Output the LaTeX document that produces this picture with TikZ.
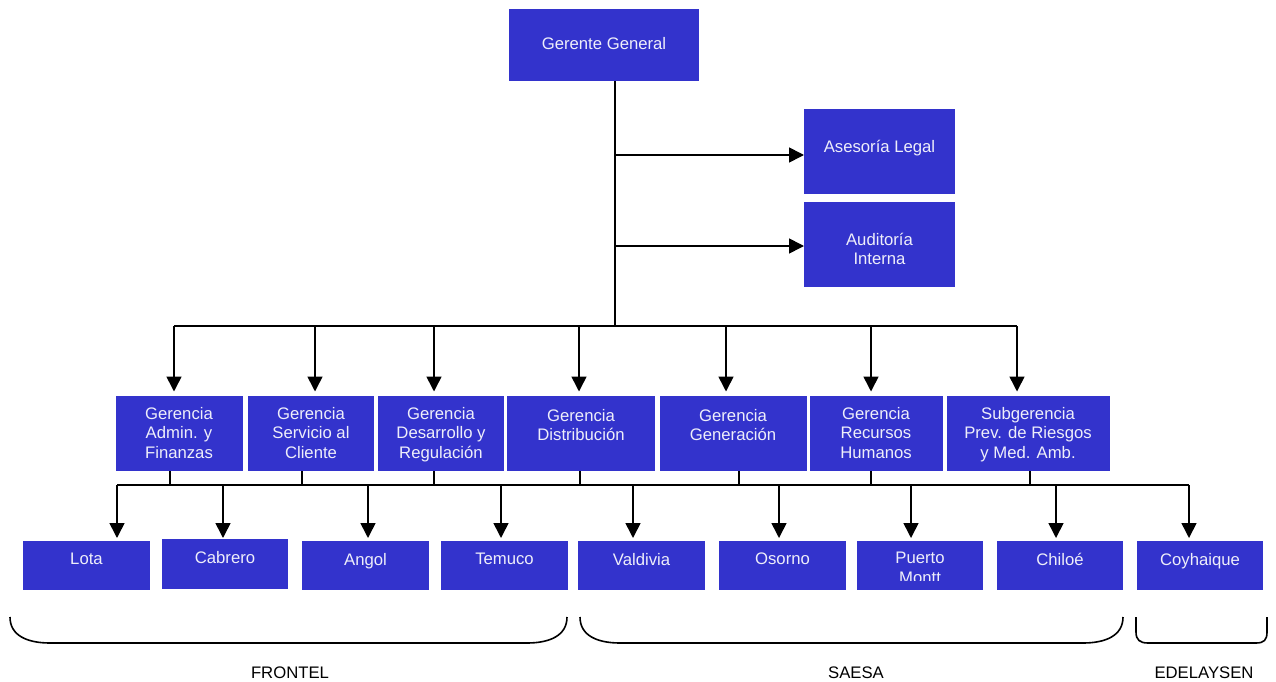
\documentclass[tikz,border=0pt]{standalone}
\usepackage{fontspec}
\setmainfont{Liberation Sans}
\usetikzlibrary{arrows.meta}
\definecolor{boxblue}{RGB}{51,51,204}
\definecolor{txtcol}{RGB}{238,238,250}
\begin{document}
\begin{tikzpicture}[x=1pt,y=-1pt,
  box/.style={fill=boxblue,draw=none,inner sep=0pt,outer sep=0pt},
  txt/.style={text=txtcol,align=center,inner sep=0pt,anchor=north,font=\fontsize{16.7}{19.5}\selectfont},
  lbl/.style={text=black,inner sep=0pt,anchor=north,font=\fontsize{16.7}{19.5}\selectfont},
  ln/.style={line width=1.6pt,draw=black},
  arr/.style={ln,-{Triangle[length=15pt,width=15pt]}},
  brace/.style={line width=1.6pt,draw=black}]
\useasboundingbox (0,0) rectangle (1276,682);

% top boxes
\node[box,minimum width=190,minimum height=72] (gg) at (604,45) {};
\node[txt] (ggt) at (604,37) {Gerente General};
\node[box,minimum width=151,minimum height=85] (al) at (879.5,151.5) {};
\node[txt] (alt) at (879.5,140.5) {Asesoría Legal};
\node[box,minimum width=151,minimum height=85] (ai) at (879.5,244.5) {};
\node[txt] (ait) at (879.5,233) {Auditoría\\Interna};

% middle row
\node[box,minimum width=127,minimum height=75] (adm) at (179.5,433.5) {};
\node[txt] (admt) at (179,407) {Gerencia\\Admin. y\\Finanzas};
\node[box,minimum width=126,minimum height=75] (ser) at (311,433.5) {};
\node[txt] (sert) at (311,407) {Gerencia\\Servicio al\\Cliente};
\node[box,minimum width=126,minimum height=75] (des) at (441,433.5) {};
\node[txt] (dest) at (441,407) {Gerencia\\Desarrollo y\\Regulación};
\node[box,minimum width=148,minimum height=75] (dis) at (581,433.5) {};
\node[txt] (dist) at (581,409) {Gerencia\\Distribución};
\node[box,minimum width=147,minimum height=75] (gen) at (733.5,433.5) {};
\node[txt] (gent) at (733,409) {Gerencia\\Generación};
\node[box,minimum width=133,minimum height=75] (rec) at (876.5,433.5) {};
\node[txt] (rect) at (876,407) {Gerencia\\Recursos\\Humanos};
\node[box,minimum width=163,minimum height=75] (sub) at (1028.5,433.5) {};
\node[txt] (subt) at (1028,407) {Subgerencia\\Prev. de Riesgos\\y Med. Amb.};

% bottom row
\node[box,minimum width=127,minimum height=49] (lota) at (86.5,565.5) {};
\node[txt] (lotat) at (86.5,553) {Lota};
\node[box,minimum width=126,minimum height=50] (cab) at (225,564) {};
\node[txt] (cabt) at (225,551) {Cabrero};
\node[box,minimum width=127,minimum height=49] (ang) at (365.5,565.5) {};
\node[txt] (angt) at (365.5,553) {Angol};
\node[box,minimum width=127,minimum height=49] (tem) at (504.5,565.5) {};
\node[txt] (temt) at (504.5,553) {Temuco};
\node[box,minimum width=127,minimum height=49] (val) at (641.5,565.5) {};
\node[txt] (valt) at (641.5,553) {Valdivia};
\node[box,minimum width=127,minimum height=49] (oso) at (782.5,565.5) {};
\node[txt] (osot) at (782.5,553) {Osorno};
\node[box,minimum width=126,minimum height=49] (pm) at (920,565.5) {};
\begin{scope}
\clip (857,541) rectangle (983,580.5);
\node[txt] (pmt) at (920,552) {Puerto\\Montt};
\end{scope}
\node[box,minimum width=126,minimum height=49] (chi) at (1060,565.5) {};
\node[txt] (chit) at (1060,553) {Chiloé};
\node[box,minimum width=126,minimum height=49] (coy) at (1200,565.5) {};
\node[txt] (coyt) at (1200,553) {Coyhaique};

% coordinates
\coordinate (trunk) at (615,326);
\coordinate (busL) at (174,326);
\coordinate (busR) at (1017,326);
\foreach \n/\x in {m1/174,m2/315,m3/434,m4/579,m5/726,m6/871,m7/1017}
  \coordinate (\n) at (\x,391.5);
\coordinate (bus2L) at (117,485);
\coordinate (bus2R) at (1189,485);
\foreach \n/\x in {b1/117,b2/223,b3/368,b4/501,b5/633,b6/779,b7/911,b8/1056,b9/1189}
  \coordinate (\n) at (\x,538);

% connectors top
\draw[ln] (gg.south -| trunk) -- (trunk);
\draw[arr] (trunk |- 0,155) -- (al.west |- 0,155);
\draw[arr] (trunk |- 0,246) -- (ai.west |- 0,246);
\draw[ln] (busL) -- (busR);
\foreach \n in {m1,m2,m3,m4,m5,m6,m7}
  \draw[arr] (\n |- trunk) -- (\n);

% connectors bottom
\draw[ln] (bus2L) -- (bus2R);
\foreach \n/\x in {adm/170,ser/302,des/434,dis/580,gen/739,rec/871,sub/1030}
  \draw[ln] (\n.south -| \x,0) -- (\x,485);
\foreach \n in {b1,b2,b3,b4,b5,b6,b7,b8,b9}
  \draw[arr] (\n |- bus2L) -- (\n);

% braces
\draw[brace] (10,617) .. controls (10,636) and (28,643) .. (50,643) -- (527,643) .. controls (549,643) and (567,636) .. (567,617);
\draw[brace] (580,617) .. controls (580,636) and (598,643) .. (620,643) -- (1083,643) .. controls (1105,643) and (1123,636) .. (1123,617);
\draw[brace] (1136,617) -- (1136,632) .. controls (1136,640) and (1140,643) .. (1148,643) -- (1256,643) .. controls (1264,643) and (1267,640) .. (1267,632) -- (1267,617);

\node[lbl] (fr) at (290,667) {FRONTEL};
\node[lbl] (sa) at (856,667) {SAESA};
\node[lbl] (ed) at (1204,667) {EDELAYSEN};
\end{tikzpicture}
\end{document}
